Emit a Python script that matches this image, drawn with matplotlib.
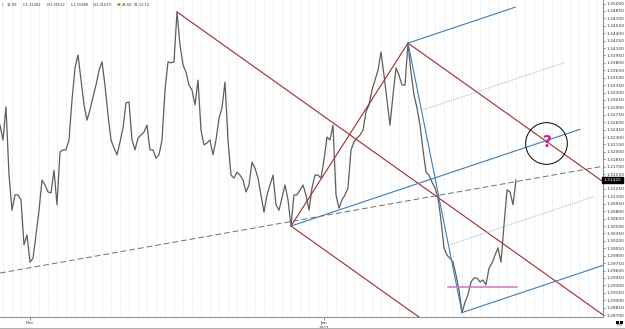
import numpy as np
import matplotlib
matplotlib.use("Agg")
from matplotlib import pyplot as plt
from matplotlib.lines import Line2D
from matplotlib.patches import Rectangle

# price path, one value per bar
closes = [
    1.3254, 1.3224, 1.3291, 1.3153, 1.3082, 1.3113, 1.3113, 1.3103, 1.3012, 1.3032,
    1.2977, 1.2985, 1.3032, 1.3082, 1.3143, 1.3133, 1.3119, 1.3117, 1.3163, 1.3093,
    1.3200, 1.3204, 1.3204, 1.3224, 1.3305, 1.3370, 1.3396, 1.3345, 1.3295, 1.3264,
    1.3285, 1.3311, 1.3335, 1.3365, 1.3382, 1.3335, 1.3275, 1.3224, 1.3208, 1.3194,
    1.3220, 1.3248, 1.3299, 1.3301, 1.3224, 1.3204, 1.3228, 1.3234, 1.3240, 1.3254,
    1.3204, 1.3204, 1.3187, 1.3194, 1.3224, 1.3325, 1.3382, 1.3380, 1.3382, 1.3483,
    1.3416, 1.3376, 1.3361, 1.3335, 1.3325, 1.3295, 1.3345, 1.3244, 1.3214, 1.3218,
    1.3224, 1.3194, 1.3224, 1.3268, 1.3289, 1.3341, 1.3224, 1.3153, 1.3147, 1.3159,
    1.3153, 1.3143, 1.3119, 1.3133, 1.3179, 1.3167, 1.3147, 1.3113, 1.3078, 1.3113,
    1.3133, 1.3153, 1.3093, 1.3082, 1.3107, 1.3133, 1.3103, 1.3050, 1.3113, 1.3113,
    1.3123, 1.3133, 1.3113, 1.3082, 1.3127, 1.3153, 1.3153, 1.3147, 1.3184, 1.3230,
    1.3224, 1.3254, 1.3113, 1.3086, 1.3103, 1.3113, 1.3127, 1.3204, 1.3220, 1.3228,
    1.3234, 1.3244, 1.3281, 1.3295, 1.3325, 1.3345, 1.3365, 1.3402, 1.3355, 1.3305,
    1.3254, 1.3315, 1.3370, 1.3355, 1.3335, 1.3335, 1.3420, 1.3361, 1.3315, 1.3289,
    1.3254, 1.3204, 1.3159, 1.3153, 1.3139, 1.3127, 1.3107, 1.3062, 1.3006, 1.2991,
    1.2985, 1.2977, 1.2951, 1.2921, 1.2875, 1.2896, 1.2911, 1.2937, 1.2945, 1.2945,
    1.2937, 1.2941, 1.2931, 1.2965, 1.2975, 1.2991, 1.3006, 1.2977, 1.3052, 1.3123,
    1.3119, 1.3093, 1.3143,
]

last_price = 1.31425
header = ["11:09", "C:1.31402", "H:1.31532", "L:1.31388", "O:1.31529", "43:50", "01-13-11"]

month_bars = [10, 108]
month_labels = ["Dec", "Jan\n2011"]

# pitchfork pivots (bar numbers)
red_pivots = [59, 97, 136]
blue_pivots = [97, 136, 154]
# where the blue lines stop: median, upper tine, lower tine, upper/lower warning lines
blue_ends = [193.3, 171.7, 215, 188.3, 197.7]

trend_bars = [0, 201]
trend_prices = [1.2955, 1.3171]

support_bars = [149.2, 172.2]
support_price = 1.2926

target_bar = 182
target_price = 1.3218

RED = "#a3292b"
BLUE = "#3c7fb6"
LIGHTBLUE = "#8fb8d6"

fig = plt.figure(figsize=(6.25, 3.29), dpi=100)
ax = fig.add_axes([0, 12 / 329, 603 / 625, 317 / 329])

x = np.arange(len(closes))
ax.set_xlim(0, 201)
ax.set_ylim(1.28661, 1.35071)

for gx in np.arange(1, 201, 3):
    ax.axvline(gx, color="#dadada", lw=0.5, ls=(0, (1, 1)), zorder=0)

ax.plot(x, closes, color="#5e5e5e", lw=0.9, zorder=2)


def ray(p0, slope, x_end):
    xs = np.array([p0[0], x_end])
    ys = p0[1] + slope * (xs - p0[0])
    return xs, ys


# red pitchfork
a, b, c = [(i, closes[i]) for i in red_pivots]
mid = ((b[0] + c[0]) / 2, (b[1] + c[1]) / 2)
slope = (mid[1] - a[1]) / (mid[0] - a[0])
for p in (a, b, c):
    ax.plot(*ray(p, slope, 230), color=RED, lw=0.8, zorder=3)
ax.plot([b[0], c[0]], [b[1], c[1]], color=RED, lw=0.8, zorder=3)

# blue pitchfork
a, b, c = [(i, closes[i]) for i in blue_pivots]
mid = ((b[0] + c[0]) / 2, (b[1] + c[1]) / 2)
slope = (mid[1] - a[1]) / (mid[0] - a[0])
ax.plot(*ray(a, slope, blue_ends[0]), color=BLUE, lw=0.8, zorder=3)
ax.plot(*ray(b, slope, blue_ends[1]), color=BLUE, lw=0.8, zorder=3)
ax.plot(*ray(c, slope, blue_ends[2]), color=BLUE, lw=0.8, zorder=3)
ax.plot([b[0], c[0]], [b[1], c[1]], color=BLUE, lw=0.8, zorder=3)
q1 = (b[0] + (c[0] - b[0]) * 0.25, b[1] + (c[1] - b[1]) * 0.25)
q3 = (b[0] + (c[0] - b[0]) * 0.75, b[1] + (c[1] - b[1]) * 0.75)
ax.plot(*ray(q1, slope, blue_ends[3]), color=LIGHTBLUE, lw=0.7, ls=(0, (1, 1)), zorder=3)
ax.plot(*ray(q3, slope, blue_ends[4]), color=LIGHTBLUE, lw=0.7, ls=(0, (1, 1)), zorder=3)

# dashed trendline
ax.plot(trend_bars, trend_prices, color="#707070", lw=0.7, ls=(0, (6, 3)), zorder=3)

# support level
ax.plot(support_bars, [support_price] * 2, color="#c875c8", lw=1.1, zorder=3)

# target circle
ax.plot(target_bar, target_price, marker="o", ms=30, mfc="none", mec="black", mew=0.7, zorder=4)
ax.text(target_bar + 0.6, target_price, "?", color="#cc1f8a", fontsize=11, fontweight="bold",
        ha="center", va="center", zorder=5)

# axes styling
for s in ("top", "left"):
    ax.spines[s].set_visible(False)
ax.spines["right"].set_color("#909090")
ax.spines["bottom"].set_color("#909090")
ax.spines["right"].set_linewidth(0.8)
ax.spines["bottom"].set_linewidth(0.8)

ax.yaxis.tick_right()
yt = np.arange(1.2870, 1.35001, 0.0015)
ax.set_yticks(yt)
# the last-price box takes the place of the nearest label
ax.set_yticklabels(["" if abs(v - last_price) < 0.0005 else "%.5f" % v for v in yt])
ax.tick_params(axis="y", labelsize=3.2, length=1.5, width=0.4, pad=1, colors="#333333")
ax.set_xticks(month_bars)
ax.set_xticklabels(month_labels)
ax.tick_params(axis="x", labelsize=3.2, length=2, width=0.4, pad=1, colors="#333333")

ax.text(1.001, last_price, "1.31425", transform=ax.get_yaxis_transform(), fontsize=3.2,
        color="white", va="center", ha="left",
        bbox=dict(boxstyle="square,pad=0.25", fc="black", ec="black"), zorder=6, clip_on=False)

# header line
hx = [7, 23, 47, 71, 93, 122, 134]
for px, t in zip(hx, header):
    fig.text(px / 625, 1 - 5 / 329, t, fontsize=2.6, color="#333333", va="center", ha="left")
fig.text(117 / 625, 1 - 5 / 329, "\u25cf", fontsize=3.2, color="#9a9a20", va="center", ha="left")
fig.text(2 / 625, 1 - 5 / 329, "\u00a6", fontsize=3.2, color="#333333", va="center", ha="left")

# little corner widgets
fig.add_artist(Rectangle((616 / 625, 5.5 / 329), 3 / 625, 3 / 329, transform=fig.transFigure,
                         fc="black", ec="none"))
fig.add_artist(Rectangle((620 / 625, 5.5 / 329), 3 / 625, 3 / 329, transform=fig.transFigure,
                         fc="black", ec="none"))
fig.add_artist(Line2D([0, 1], [1.5 / 329, 1.5 / 329], color="#b0b0b0", lw=0.8))
fig.text(619 / 625, 2.2 / 329, "+fx", fontsize=3, color="#555555", ha="center", va="bottom")

fig.savefig("out.png", dpi=100)
